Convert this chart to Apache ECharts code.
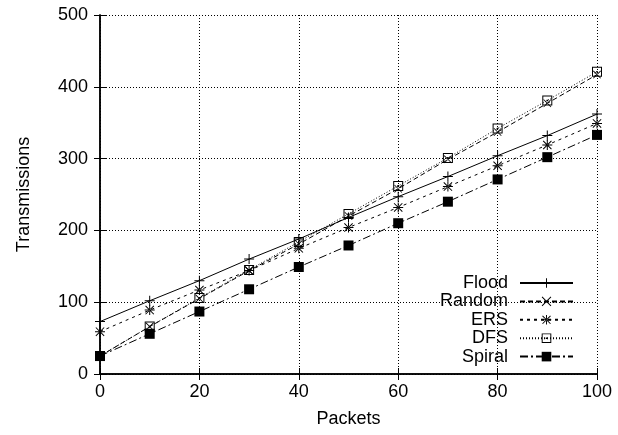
<!DOCTYPE html>
<html>
<head>
<meta charset="utf-8">
<script src="https://cdn.jsdelivr.net/npm/echarts@6/dist/echarts.min.js"></script>
<style>
html,body{margin:0;padding:0;background:#fff;}
#chart{width:618px;height:435px;}
</style>
</head>
<body>
<div id="chart"></div>
<script>
const packets = [0, 10, 20, 30, 40, 50, 60, 70, 80, 90, 100];
const flood  = [73, 102, 130, 160, 188, 218, 247, 275, 304, 332, 362];
const random = [25, 66, 105, 144, 181, 220, 258, 299, 337, 377, 417];
const ers    = [59, 89, 117, 144, 175, 204, 232, 261, 290, 319, 349];
const dfs    = [25, 66, 106, 145, 184, 223, 262, 301, 342, 381, 421];
const spiral = [25, 56, 87, 118, 149, 179, 210, 240, 271, 302, 333];
const seriesNames = ['Flood', 'Random', 'ERS', 'DFS', 'Spiral'];

const PLUS = 'path://M0,4.5H10V5.5H0Z M4.5,0H5.5V10H4.5Z';
const CROSS = 'path://M0,0.7L0.7,0L10,9.3L9.3,10Z M10,0.7L9.3,0L0,9.3L0.7,10Z';
const STAR = 'path://M0,4.5H10V5.5H0Z M4.5,0H5.5V10H4.5Z M0.5,1.2L1.2,0.5L9.5,8.8L8.8,9.5Z M9.5,1.2L8.8,0.5L0.5,8.8L1.2,9.5Z';
const BOXDOT = 'path://M0,0H10V10H0Z M1,1V9H9V1Z M4.2,4.2H5.8V5.8H4.2Z';
const FILLSQ = 'path://M0,0H10V10H0Z';

const pairs = arr => packets.map((p, i) => [p, arr[i]]);

const font = 'Liberation Sans, Arial, Helvetica, sans-serif';
const FS = 18;
const chart = echarts.init(document.getElementById('chart'), null, {renderer: 'canvas'});

function mk(name, data, symbol, size, dash) {
  return {
    name: name,
    type: 'line',
    data: pairs(data),
    symbol: symbol,
    symbolSize: size,
    showSymbol: true,
    itemStyle: {color: '#000', borderWidth: 0},
    lineStyle: {color: '#000', width: 1, type: dash},
    emphasis: {disabled: true},
    z: 5
  };
}

const gridLine = {show: true, lineStyle: {color: '#000', width: 1, type: [1, 2]}};
const axisLine = {show: true, lineStyle: {color: '#000', width: 1.5}};

chart.setOption({
  animation: false,
  backgroundColor: '#fff',
  grid: {left: 100, right: 21, top: 15, bottom: 61, containLabel: false},
  legend: {
    orient: 'vertical',
    right: 39,
    top: 269,
    align: 'right',
    itemWidth: 53,
    itemHeight: 12,
    itemGap: 0.4,
    textStyle: {fontFamily: font, fontSize: FS, color: '#000', padding: [0, 7, 0, 0]},
    data: seriesNames
  },
  xAxis: [{
    type: 'value', min: 0, max: 100, interval: 20,
    name: 'Packets', nameLocation: 'middle', nameGap: 36,
    nameTextStyle: {fontFamily: font, fontSize: FS, color: '#000'},
    axisLine: axisLine,
    axisTick: {show: true, inside: true, length: 6, lineStyle: {color: '#000'}},
    axisLabel: {fontFamily: font, fontSize: FS, color: '#000', margin: 9},
    splitLine: gridLine
  }, {
    type: 'value', min: 0, max: 100, interval: 20, position: 'top',
    axisLine: axisLine,
    axisTick: {show: true, inside: true, length: 6, lineStyle: {color: '#000'}},
    axisLabel: {show: false},
    splitLine: {show: false}
  }],
  yAxis: [{
    type: 'value', min: 0, max: 500, interval: 100,
    name: 'Transmissions', nameLocation: 'middle', nameGap: 67,
    nameTextStyle: {fontFamily: font, fontSize: FS, color: '#000'},
    axisLine: axisLine,
    axisTick: {show: true, inside: true, length: 6, lineStyle: {color: '#000'}},
    axisLabel: {fontFamily: font, fontSize: FS, color: '#000', margin: 12},
    splitLine: gridLine
  }, {
    type: 'value', min: 0, max: 500, interval: 100, position: 'right',
    axisLine: axisLine,
    axisTick: {show: true, inside: true, length: 6, lineStyle: {color: '#000'}},
    axisLabel: {show: false},
    splitLine: {show: false}
  }],
  series: [
    mk('Flood', flood, PLUS, 10, 'solid'),
    mk('Random', random, CROSS, 8, [5, 3]),
    mk('ERS', ers, STAR, 10, [3, 4]),
    mk('DFS', dfs, BOXDOT, 10, [1, 2]),
    mk('Spiral', spiral, FILLSQ, 10, [8, 3, 2, 3])
  ]
});
</script>
</body>
</html>
